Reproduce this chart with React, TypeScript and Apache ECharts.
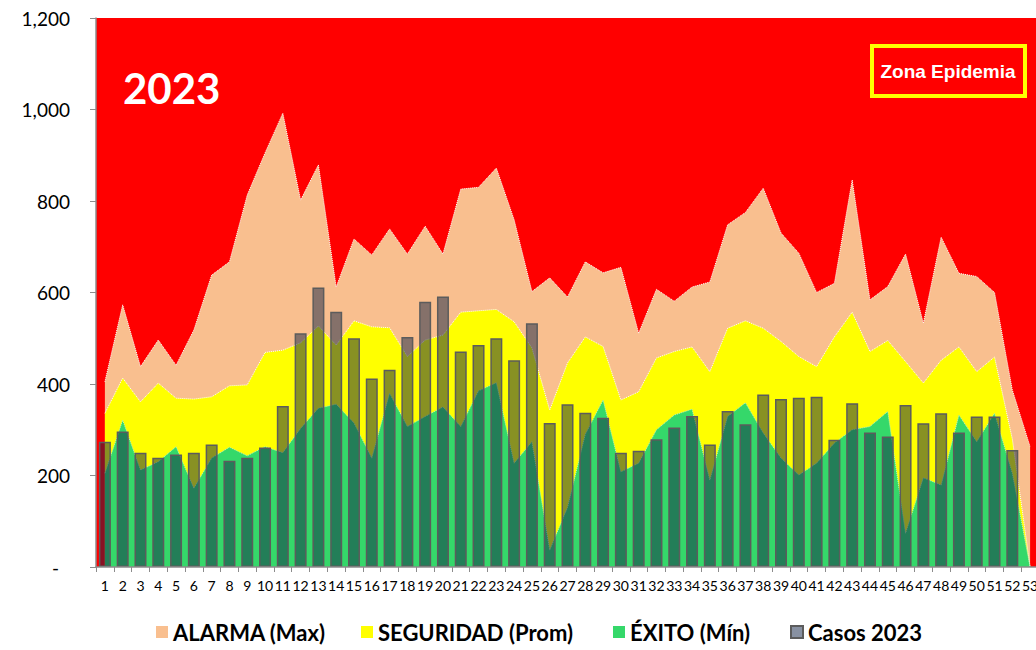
import React, { useEffect, useRef } from "react";
import * as echarts from "echarts";

const semanas = Array.from({ length: 53 }, (_, i) => String(i + 1));

const alarma = [405, 573, 438, 496, 441, 518, 638, 667, 813, 905, 992, 802, 879, 612, 717, 682, 739, 684, 745, 684, 826, 830, 872, 759, 602, 632, 590, 667, 643, 655, 511, 607, 581, 612, 623, 748, 775, 828, 730, 686, 600, 620, 846, 584, 613, 684, 533, 721, 642, 635, 600, 387, 263];

const seguridad = [336, 413, 361, 402, 369, 367, 372, 396, 398, 469, 474, 490, 527, 485, 538, 525, 523, 460, 496, 507, 557, 560, 563, 536, 479, 343, 446, 503, 482, 365, 383, 457, 471, 481, 427, 522, 538, 522, 493, 460, 438, 503, 557, 471, 495, 449, 402, 452, 481, 427, 459, 280, 0];

const exito = [205, 321, 212, 230, 263, 172, 238, 262, 243, 263, 250, 303, 347, 356, 315, 238, 380, 307, 329, 350, 307, 385, 403, 227, 274, 37, 130, 290, 365, 208, 227, 300, 332, 345, 190, 329, 359, 293, 238, 201, 227, 271, 300, 307, 340, 74, 195, 179, 332, 274, 336, 205, 0];

const casos2023 = [274, 296, 250, 239, 246, 250, 268, 232, 239, 261, 352, 511, 611, 558, 500, 412, 431, 503, 580, 591, 471, 485, 500, 452, 533, 315, 356, 337, 326, 250, 254, 279, 305, 330, 268, 341, 312, 377, 367, 370, 372, 278, 358, 294, 285, 354, 314, 336, 294, 329, 329, 256, null];

const yTicks = [0, 200, 400, 600, 800, 1000, 1200];

const legendNames = ["ALARMA (Max)", "SEGURIDAD (Prom)", "ÉXITO (Mín)", "Casos 2023"];

const FONT = "Lato, 'Noto Sans', sans-serif";

export default function App() {
  const ref = useRef<HTMLDivElement>(null);

  useEffect(() => {
    if (!ref.current) return;
    const chart = echarts.init(ref.current, null, { renderer: "svg" });
    const areaLine = { color: "#ffffff", width: 1, type: "dotted" as const };
    const legendLefts = [151, 356, 608, 785];
    chart.setOption({
      animation: false,
      backgroundColor: "#ffffff",
      textStyle: { fontFamily: FONT },
      grid: {
        left: 96,
        top: 18,
        width: 943,
        height: 549,
        show: true,
        backgroundColor: "#FF0000",
        borderWidth: 0,
        containLabel: false,
        outerBoundsMode: "none",
      },
      legend: legendNames.map((n, i) => ({
        left: legendLefts[i],
        top: 616,
        itemWidth: 12,
        itemHeight: 12,
        icon: "rect",
        textStyle: { fontFamily: FONT, fontSize: 22, fontWeight: "bold", color: "#000" },
        data: [n],
      })),
      xAxis: {
        type: "category",
        data: semanas,
        boundaryGap: true,
        axisLine: { show: true, lineStyle: { color: "#8c8c8c", width: 1.5 } },
        axisTick: { show: true, length: 5, lineStyle: { color: "#8c8c8c" } },
        axisLabel: { interval: 0, margin: 11, fontSize: 14, color: "#000", fontFamily: FONT },
        splitLine: { show: false },
        z: 10,
      },
      yAxis: {
        type: "value",
        min: yTicks[0],
        max: yTicks[yTicks.length - 1],
        interval: 200,
        axisLine: { show: true, lineStyle: { color: "#8c8c8c", width: 1.5 } },
        axisTick: { show: true, inside: false, length: 6, lineStyle: { color: "#8c8c8c" } },
        axisLabel: {
          margin: 26,
          fontSize: 19,
          color: "#000",
          fontFamily: FONT,
          formatter: (v: number) => (v === 0 ? "{z|-}" : v.toLocaleString("en-US")),
          rich: { z: { fontSize: 19, color: "#000", padding: [0, 11, 0, 0], fontFamily: FONT } },
        },
        splitLine: { show: false },
        z: 10,
      },
      graphic: [
        {
          type: "text",
          x: 123,
          y: 88,
          z: 100,
          style: {
            text: "2023",
            fill: "#ffffff",
            font: `bold 42px ${FONT}`,
            textVerticalAlign: "middle",
            verticalAlign: "middle",
          },
        },
        {
          type: "rect",
          z: 100,
          shape: { x: 872, y: 46, width: 153, height: 50 },
          style: { fill: "#FF0000", stroke: "#FFFF00", lineWidth: 4 },
        },
        {
          type: "text",
          x: 948,
          y: 71,
          z: 101,
          style: {
            text: "Zona Epidemia",
            fill: "#ffffff",
            font: "bold 19px 'Liberation Sans', Arial, sans-serif",
            align: "center",
            verticalAlign: "middle",
            textAlign: "center",
            textVerticalAlign: "middle",
          },
        },
      ],
      series: [
        {
          name: legendNames[0],
          type: "line",
          z: 2,
          data: alarma,
          symbol: "none",
          lineStyle: areaLine,
          itemStyle: { color: "#F9BF8F" },
          areaStyle: { color: "#F9BF8F", opacity: 1 },
        },
        {
          name: legendNames[1],
          type: "line",
          z: 2,
          data: seguridad,
          symbol: "none",
          lineStyle: areaLine,
          itemStyle: { color: "#FFFF00" },
          areaStyle: { color: "#FFFF00", opacity: 1 },
        },
        {
          name: legendNames[2],
          type: "line",
          z: 2,
          data: exito,
          symbol: "none",
          lineStyle: { color: "#b8f0c8", width: 1, type: "dotted" },
          itemStyle: { color: "#35D86A" },
          areaStyle: { color: "#35D86A", opacity: 1 },
        },
        {
          name: legendNames[3],
          type: "bar",
          z: 5,
          data: casos2023,
          barWidth: 12,
          itemStyle: {
            color: "rgba(18,36,70,0.5)",
            borderColor: "#5c5c5c",
            borderWidth: 1.5,
          },
        },
      ],
    });
    return () => chart.dispose();
  }, []);

  return (
    <div
      ref={ref}
      style={{ position: "fixed", left: 0, top: 0, width: 1036, height: 650, background: "#fff" }}
    />
  );
}
